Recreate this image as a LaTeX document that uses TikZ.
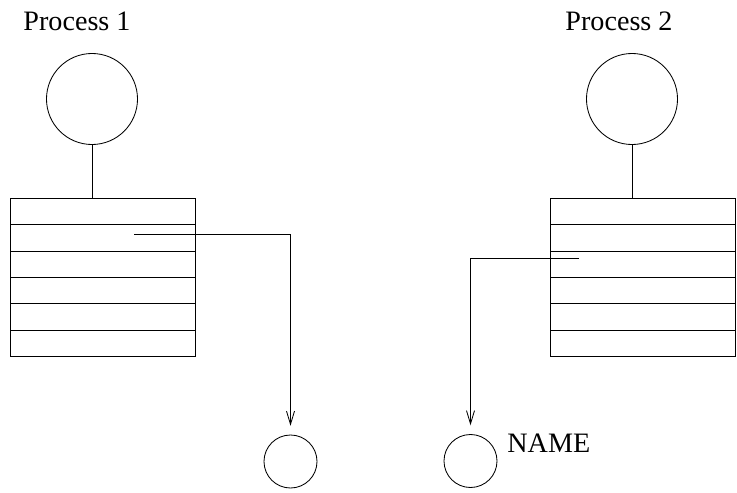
\documentclass[tikz,border=0pt]{standalone}
\usepackage{fontspec}
\setmainfont{Liberation Serif}
\usetikzlibrary{arrows.meta}
\tikzset{
  proc/.style={draw, circle, minimum size=2.275cm, inner sep=0pt},
  obj/.style={draw, circle, minimum size=1.325cm, inner sep=0pt},
  slot/.style={draw, rectangle, minimum width=4.625cm, minimum height=0.658cm,
               inner sep=0pt, anchor=north west},
  ptr/.style={-{Straight Barb[length=0.33cm, width=0.2cm]}, shorten >=0.22cm}
}
\begin{document}
\begin{tikzpicture}[x=0.025cm, y=-0.025cm, line width=0.6pt,
    font=\fontsize{20}{24}\selectfont]
  \useasboundingbox (0,0) rectangle (737,493);

  \node [anchor=base] (l1) at (77,30) {Process 1};
  \node [anchor=base] (l2) at (619,30) {Process 2};

  \node [proc] (p1) at (92,99) {};
  \node [proc] (p2) at (632,99) {};

  % the two tables
  \foreach \i [evaluate=\i as \y using 198+(\i-1)*26.33] in {1,...,6}{
    \node [slot] (a\i) at (10,\y) {};
    \node [slot] (b\i) at (550,\y) {};
  }
  \draw (p1) -- (p1 |- a1.north);
  \draw (p2) -- (p2 |- b1.north);

  \node [obj] (o1) at (290.5,461.5) {};
  \node [obj] (o2) at (470.5,461) {};
  \node [anchor=base west, inner sep=0pt] (nm) at (507,452) {NAME};

  \coordinate (s1) at (134,234);
  \coordinate (s2) at (579,258);
  \draw [ptr] (s1) -| (o1.north);
  \draw [ptr] (s2) -| (o2.north);
\end{tikzpicture}
\end{document}
